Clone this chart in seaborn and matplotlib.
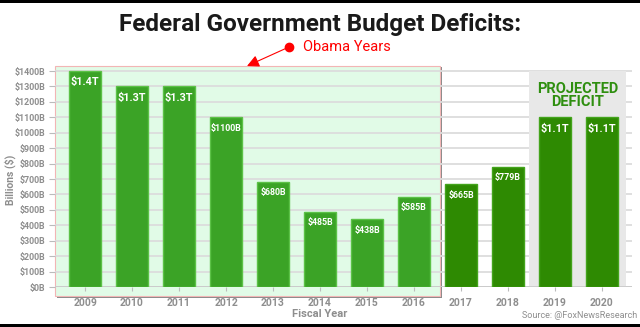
import matplotlib
matplotlib.use("Agg")
import matplotlib.pyplot as plt
import seaborn as sns
import pandas as pd
from matplotlib.patches import Rectangle
from matplotlib.lines import Line2D
import matplotlib.transforms as mtrans

years = ["2009", "2010", "2011", "2012", "2013", "2014", "2015", "2016",
         "2017", "2018", "2019", "2020"]
deficits = [1400, 1300, 1300, 1100, 680, 485, 438, 585, 665, 779, 1100, 1100]
value_labels = ["$1.4T", "$1.3T", "$1.3T", "$1100B", "$680B", "$485B", "$438B",
                "$585B", "$665B", "$779B", "$1.1T", "$1.1T"]
eras = ["Obama"] * 8 + ["Post"] * 4
yticks = list(range(0, 1500, 100))
ytick_labels = [f"${v}B" for v in yticks]

df = pd.DataFrame({"year": years, "deficit": deficits, "era": eras})

sns.set_style("white")
plt.rcParams["font.family"] = ["Roboto", "DejaVu Sans"]

W, H = 640, 327
fig = plt.figure(figsize=(6.4, 3.27), dpi=100)
ax_l, ax_r = 55 / W, 632 / W
ax_b = (H - 287) / H
ymax = 1435
ax_h = (1435 * 216 / 1400) / H
ax = fig.add_axes([ax_l, ax_b, ax_r - ax_l, ax_h])

palette = {"Obama": "#3ba326", "Post": "#2e8a02"}
sns.barplot(data=df, x="year", y="deficit", hue="era", palette=palette,
            dodge=False, width=0.68, legend=False, ax=ax, saturation=1, zorder=3)
edge = {"Obama": "#5cc247", "Post": "#44a41c"}
for p, e in zip(ax.patches, eras):
    p.set_edgecolor(edge[e])
    p.set_linewidth(1.0)

ax.set_xlim(-0.64, 11.64)
ax.set_ylim(0, ymax)
ax.set_yticks(yticks)
ax.set_yticklabels(ytick_labels)
ax.grid(axis="y", color="#dcdcdc", lw=1.3, zorder=0.5)
ax.set_axisbelow(True)
for s in ax.spines.values():
    s.set_visible(False)
ax.tick_params(axis="y", length=4, width=0.8, color="#bbbbbb", pad=3,
               labelsize=6.4, labelcolor="#8e8e8e")
ax.tick_params(axis="x", length=3, width=0.8, color="#bbbbbb", pad=5,
               labelsize=7.5, labelcolor="#8e8e8e")
ax.tick_params(left=True, bottom=True)
for t in ax.get_yticklabels() + ax.get_xticklabels():
    t.set_fontweight("bold")
ax.set_xlabel("")
ax.set_ylabel("")
fig.text(10 / W, 1 - 180 / H, "Billions ($)", rotation=90, ha="center",
         va="center", fontsize=7.5, color="#8e8e8e", fontweight="bold")
ax.axhline(0, color="#c8c8c8", lw=1.2, zorder=2)

# Obama-years shaded box
blend = mtrans.blended_transform_factory(ax.transData, ax.transAxes)
x0, x1 = -0.64, 7.55
yb = -9 / (ax_h * H)
shadow = Rectangle((x0 + 0.04, yb - 0.008), x1 - x0, 1 - yb, transform=blend,
                   facecolor="#8a8a8a", edgecolor="none", zorder=0.1, clip_on=False)
box = Rectangle((x0, yb), x1 - x0, 1 - yb, transform=blend,
                facecolor="#e1fbe7", edgecolor="#f2b5b5", lw=0.8, zorder=0.2,
                clip_on=False)
ax.add_patch(shadow)
ax.add_patch(box)

# Projected box
proj = Rectangle((9.45, 0), 11.51 - 9.45, 1400, facecolor="#e8e8e8",
                 edgecolor="none", zorder=1)
ax.add_patch(proj)
ax.text(10.48, 1240, "PROJECTED\nDEFICIT", ha="center", va="center",
        fontsize=10.5, fontweight="bold", color="#2f8f10", linespacing=0.95,
        zorder=4)

# Value labels
for i, (v, lab) in enumerate(zip(deficits, value_labels)):
    fs = 7.8 if lab.endswith("T") else 6.4
    ax.annotate(lab, xy=(i, v), xytext=(0, -4.5), textcoords="offset points",
                ha="center", va="top", color="white", fontsize=fs,
                fontweight="bold", zorder=5)

# Title and texts
fig.text(0.5, 1 - 24 / H, "Federal Government Budget Deficits:", ha="center",
         va="center", fontsize=17.5, fontweight="bold", color="#1a1a1a")
fig.text(303 / W, 1 - 47 / H, "Obama Years", ha="left", va="center",
         fontsize=10.5, color="#ff0000")
fig.add_artist(Line2D([2.89], [(H - 47) / 100], marker="o", ms=6, color="#ff0000",
                      transform=fig.dpi_scale_trans))
ax.annotate("", xy=(247, H - 66), xytext=(289, H - 47), xycoords="figure pixels",
            textcoords="figure pixels",
            arrowprops=dict(arrowstyle="-|>", color="#ff0000", lw=0.8,
                            mutation_scale=18, shrinkA=0, shrinkB=0))
fig.text(0.5, 1 - 314 / H, "Fiscal Year", ha="center", va="center",
         fontsize=8, fontweight="bold", color="#8e8e8e")
fig.text(637 / W, 1 - 316 / H, "Source: @FoxNewsResearch", ha="right",
         va="center", fontsize=6.5, color="#8e8e8e")

# Black frame lines
fig.add_artist(Rectangle((0, 1 - 3 / H), 1, 3 / H, transform=fig.transFigure,
                         facecolor="black", edgecolor="none"))
fig.add_artist(Rectangle((0, 0), 1, 3 / H, transform=fig.transFigure,
                         facecolor="black", edgecolor="none"))

fig.savefig("out.png", dpi=100)
